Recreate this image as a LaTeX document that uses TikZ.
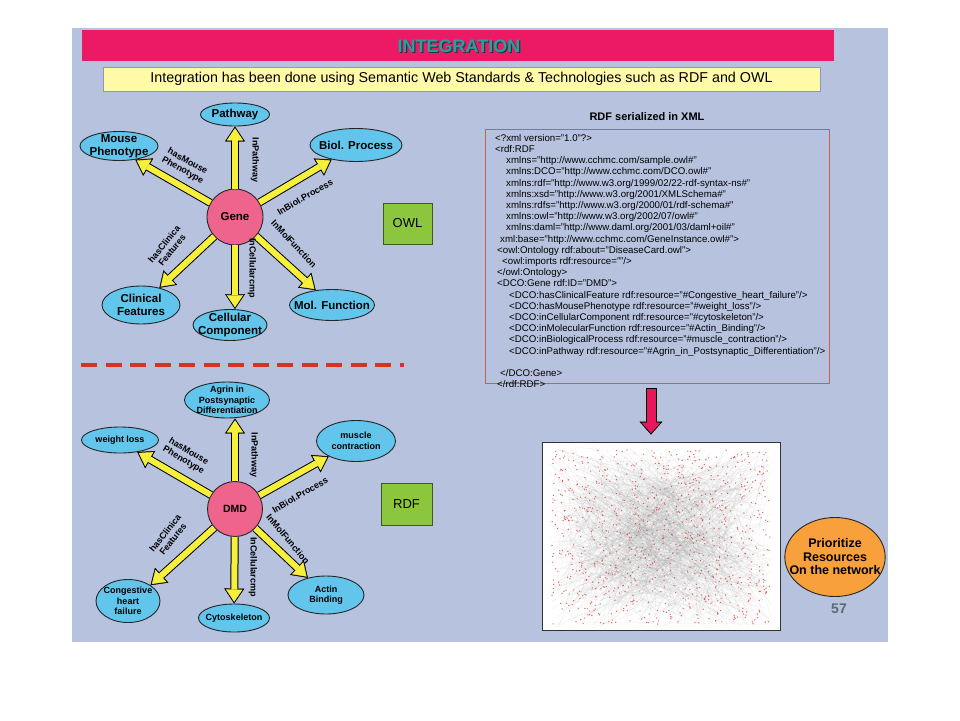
\documentclass[tikz,border=0pt]{standalone}
\usepackage{fontspec}
\setmainfont{Liberation Sans}
\usetikzlibrary{arrows.meta,shapes.geometric}

\definecolor{slidebg}{RGB}{182,194,222}
\definecolor{titlepink}{RGB}{236,26,100}
\definecolor{titleteal}{RGB}{42,158,158}
\definecolor{titleshade}{RGB}{25,60,65}
\definecolor{noteyellow}{RGB}{255,250,168}
\definecolor{noteedge}{RGB}{140,150,190}
\definecolor{ellblue}{RGB}{98,198,236}
\definecolor{genepink}{RGB}{238,100,140}
\definecolor{arryellow}{RGB}{246,240,60}
\definecolor{boxgreen}{RGB}{140,198,63}
\definecolor{dashred}{RGB}{210,52,40}
\definecolor{xmledge}{RGB}{196,96,86}
\definecolor{arrpink}{RGB}{232,22,90}
\definecolor{prioorange}{RGB}{247,160,60}
\definecolor{pagegray}{RGB}{95,105,115}
\definecolor{netedge}{RGB}{150,150,150}
\definecolor{netdot}{RGB}{222,60,60}

\tikzset{
  concept/.style={ellipse, draw=black!85, line width=0.9pt, fill=ellblue, inner sep=-8pt, align=center},
  bigtxt/.style={font=\bfseries\fontsize{11.5}{12.5}\selectfont},
  smalltxt/.style={font=\bfseries\fontsize{9}{10.5}\selectfont},
  hub/.style={circle, draw=black!85, line width=0.9pt, fill=genepink, minimum size=56pt, inner sep=0},
  elab/.style={font=\bfseries\fontsize{9}{10}\selectfont, inner sep=0, align=center},
  tagbox/.style={draw=black!55!boxgreen, fill=boxgreen, line width=0.8pt, font=\fontsize{13}{13}\selectfont},
  titletext/.style={font=\bfseries\fontsize{18}{18}\selectfont, inner sep=0},
  codetext/.style={font=\fontsize{9.7}{11.2}\selectfont, inner sep=0, align=left},
  yarrout/.style={line width=8pt, draw=black, -{Triangle[length=15pt,width=20pt,line width=0.4pt]}},
  yarrin/.style={line width=6pt, draw=arryellow, shorten >=1.8pt, -{Triangle[length=12.2pt,width=16.3pt,line width=0.4pt]}},
  parrout/.style={line width=11pt, draw=black, shorten <=4pt, shorten >=7pt, -{Triangle[length=13pt,width=23pt,line width=0.4pt]}},
  parrin/.style={line width=9pt, draw=arrpink, shorten <=5pt, shorten >=8.5pt, -{Triangle[length=10.5pt,width=18.6pt,line width=0.4pt]}},
  netline/.style={draw=netedge, line width=0.2pt, opacity=0.18},
  netdotfill/.style={fill=netdot, opacity=0.8}
}

\begin{document}
\begin{tikzpicture}[x=1pt,y=-1pt]
  \useasboundingbox (0,0) rectangle (960,720);
  \fill[white] (0,0) rectangle (960,720);

  % slide and header
  \fill[slidebg] (72,28) rectangle (888,642);
  \fill[titlepink] (82,30) rectangle (834,61);
  \node[titletext, text=titleshade] (titleshadow) at (460.3,47.3) {INTEGRATION};
  \node[titletext, text=titleteal] (title) at (459,46) {INTEGRATION};
  \node[draw=noteedge, fill=noteyellow, line width=0.8pt, minimum width=717pt, minimum height=24pt,
        font=\fontsize{14.3}{15}\selectfont] (note) at (461.5,79)
        {Integration has been done using Semantic Web Standards \& Technologies such as RDF and OWL};

  % OWL schema
  \node[hub, bigtxt] (gene) at (235,217) {Gene};
  \node[concept, bigtxt, minimum width=69pt, minimum height=23pt] (path) at (235,114.5) {Pathway};
  \node[concept, bigtxt, minimum width=78pt, minimum height=29pt] (mouse) at (119,146) {Mouse\\Phenotype};
  \node[concept, bigtxt, minimum width=92pt, minimum height=33pt] (biol) at (356,145) {Biol. Process};
  \node[concept, bigtxt, minimum width=78pt, minimum height=38pt] (clin) at (141,305) {Clinical\\Features};
  \node[concept, bigtxt, minimum width=74pt, minimum height=31pt] (cell) at (230,325) {Cellular\\Component};
  \node[concept, bigtxt, minimum width=85pt, minimum height=31pt] (molf) at (332,305) {Mol. Function};

  \foreach \t in {path,mouse.-40,biol,clin,gene |- cell.north,molf}{
    \draw[yarrout] (gene) -- (\t);
    \draw[yarrin] (gene) -- (\t);
  }

  \node[elab, rotate=-90] (lpath) at (255,160) {InPathway};
  \node[elab, rotate=-29] (lmouse) at (185,166) {hasMouse\\Phenotype};
  \node[elab, rotate=30] (lbiol) at (305,197) {InBiol.Process};
  \node[elab, rotate=-47] (lmolf) at (294,244) {InMolFunction};
  \node[elab, rotate=-90] (lcell) at (252,268) {InCellularcmp};
  \node[elab, rotate=51] (lclin) at (168,247) {hasClinica\\Features};

  \node[tagbox, minimum width=49pt, minimum height=41pt] (owl) at (407.5,223.5) {OWL};

  % separator
  \draw[dashred, line width=4pt, dash pattern=on 16pt off 8.5pt] (81,365) -- (404,365);

  % RDF instance
  \node[hub, font=\bfseries\fontsize{10.5}{11}\selectfont, minimum size=55pt] (dmd) at (235,509) {DMD};
  \node[concept, smalltxt, minimum width=85pt, minimum height=36pt] (agrin) at (227,400) {Agrin in\\Postsynaptic\\Differentiation};
  \node[concept, smalltxt, minimum width=77pt, minimum height=26pt] (wloss) at (120,440) {weight loss};
  \node[concept, smalltxt, minimum width=79pt, minimum height=41pt] (muscle) at (356,441) {muscle\\contraction};
  \node[concept, smalltxt, minimum width=64pt, minimum height=43pt] (chf) at (128,601) {Congestive\\heart\\failure};
  \node[concept, smalltxt, minimum width=71pt, minimum height=28pt] (cyto) at (234,618) {Cytoskeleton};
  \node[concept, smalltxt, minimum width=76pt, minimum height=38pt] (actin) at (326,595) {Actin\\Binding};

  \foreach \t in {dmd |- agrin.south,wloss.-35,muscle,chf.35,cyto,actin}{
    \draw[yarrout] (dmd) -- (\t);
    \draw[yarrin] (dmd) -- (\t);
  }

  \node[elab, rotate=-90] (lagrin) at (254,455) {InPathway};
  \node[elab, rotate=-30] (lwloss) at (186,456) {hasMouse\\Phenotype};
  \node[elab, rotate=30] (lmuscle) at (300,495) {InBiol.Process};
  \node[elab, rotate=-50] (lactin) at (288,539) {InMolFunction};
  \node[elab, rotate=-90] (lcyto) at (253,567) {InCellularcmp};
  \node[elab, rotate=52] (lchf) at (169,536) {hasClinica\\Features};

  \node[tagbox, minimum width=51pt, minimum height=42pt] (rdf) at (406.5,504) {RDF};

  % xml serialisation
  \node[font=\bfseries\fontsize{11}{12}\selectfont] (xmltitle) at (647,117) {RDF serialized in XML};
  \node[draw=xmledge, line width=1pt, minimum width=344pt, minimum height=254pt] (xmlbox) at (657,256) {};
  \node[codetext, anchor=north west] (xmlcode) at (495,134) {%
    <?xml version="1.0"?>\\
    <rdf:RDF\\
    \hspace*{11pt}xmlns="http://www.cchmc.com/sample.owl\#"\\
    \hspace*{11pt}xmlns:DCO="http://www.cchmc.com/DCO.owl\#"\\
    \hspace*{11pt}xmlns:rdf="http://www.w3.org/1999/02/22-rdf-syntax-ns\#"\\
    \hspace*{11pt}xmlns:xsd="http://www.w3.org/2001/XMLSchema\#"\\
    \hspace*{11pt}xmlns:rdfs="http://www.w3.org/2000/01/rdf-schema\#"\\
    \hspace*{11pt}xmlns:owl="http://www.w3.org/2002/07/owl\#"\\
    \hspace*{11pt}xmlns:daml="http://www.daml.org/2001/03/daml+oil\#"\\
    \hspace*{5pt}xml:base="http://www.cchmc.com/GeneInstance.owl\#">\\
    \hspace*{2pt}<owl:Ontology rdf:about="DiseaseCard.owl">\\
    \hspace*{7pt}<owl:imports rdf:resource=""/>\\
    \hspace*{2pt}</owl:Ontology>\\
    \hspace*{2pt}<DCO:Gene rdf:ID="DMD">\\
    \hspace*{14pt}<DCO:hasClinicalFeature rdf:resource="\#Congestive\_heart\_failure"/>\\
    \hspace*{14pt}<DCO:hasMousePhenotype rdf:resource="\#weight\_loss"/>\\
    \hspace*{14pt}<DCO:inCellularComponent rdf:resource="\#cytoskeleton"/>\\
    \hspace*{14pt}<DCO:inMolecularFunction rdf:resource="\#Actin\_Binding"/>\\
    \hspace*{14pt}<DCO:inBiologicalProcess rdf:resource="\#muscle\_contraction"/>\\
    \hspace*{14pt}<DCO:inPathway rdf:resource="\#Agrin\_in\_Postsynaptic\_Differentiation"/>\\
    ~\\
    \hspace*{5pt}</DCO:Gene>\\
    \hspace*{2pt}</rdf:RDF>};

  % network
  \node[draw=black!80, fill=white, line width=0.8pt, minimum width=238pt, minimum height=188pt] (net) at (661,536) {};
  \coordinate (drop) at (651,0);
  \draw[parrout] (xmlbox.south -| drop) -- (net.north -| drop);
  \draw[parrin] (xmlbox.south -| drop) -- (net.north -| drop);

  \begin{scope}
    \clip (543,443) rectangle (779,629);
    \pgfmathsetseed{20}
    \foreach \i in {1,...,1100}{
      \pgfmathsetmacro\ax{548+113*(rnd+rnd)}
      \pgfmathsetmacro\ay{446+91*(rnd+rnd)}
      \pgfmathsetmacro\bx{548+226*rnd}
      \pgfmathsetmacro\by{446+182*rnd}
      \draw[netline] (\ax,\ay) -- (\bx,\by);
    }
    \foreach \i in {1,...,900}{
      \pgfmathsetmacro\ax{552+218*rnd}
      \pgfmathsetmacro\ay{450+174*rnd}
      \fill[netdotfill] (\ax,\ay) circle (0.7pt);
    }
  \end{scope}

  \node[ellipse, draw=black!85, fill=prioorange, line width=0.9pt, minimum width=98pt, minimum height=79pt,
        inner sep=-10pt, align=center, font=\bfseries\fontsize{12.5}{13.5}\selectfont] (prio) at (835,557)
        {Prioritize\\Resources\\On the network};
  \node[font=\bfseries\fontsize{14}{14}\selectfont, text=pagegray] (pagenum) at (839,609) {57};
\end{tikzpicture}
\end{document}
